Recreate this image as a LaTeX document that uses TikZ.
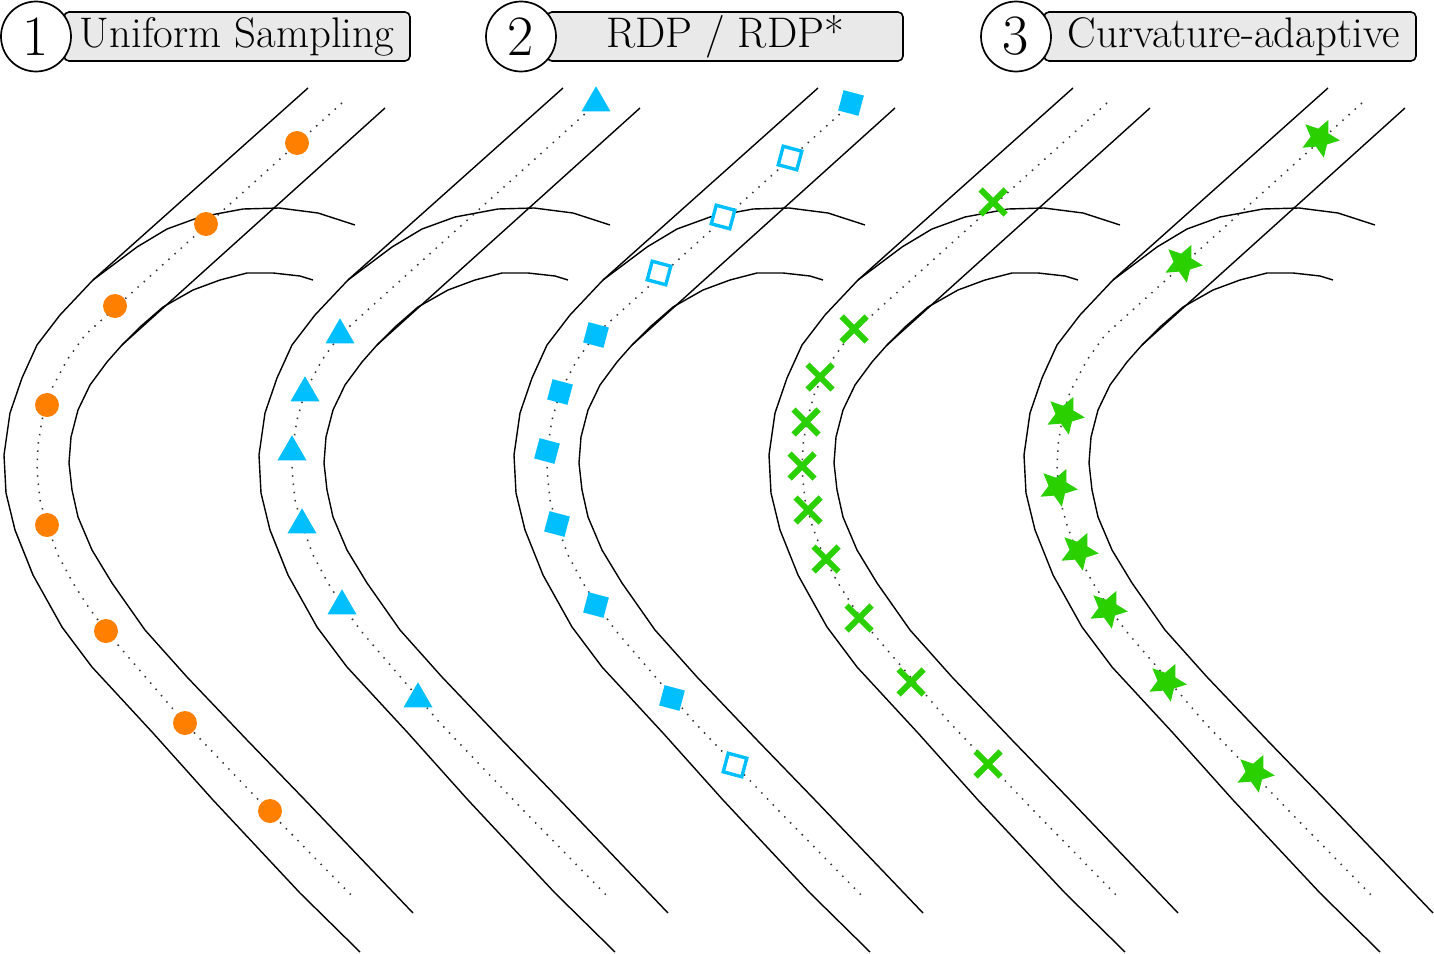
\documentclass[tikz,border=0pt]{standalone}
\usetikzlibrary{shapes.geometric,shapes.misc}
\definecolor{cOrange}{RGB}{255,127,0}
\definecolor{cBlue}{RGB}{0,191,255}
\definecolor{cGreen}{RGB}{43,208,0}
\definecolor{cBox}{RGB}{233,233,233}
\begin{document}
\begin{tikzpicture}[x=0.5pt,y=-0.5pt,
  road/.style={line width=0.7pt, line join=round},
  centerline/.style={line width=0.75pt, black!80, dash pattern=on 0.75pt off 3.4pt},
  dotmark/.style={circle, fill=cOrange, minimum size=12pt, inner sep=0pt},
  trimark/.style={regular polygon, regular polygon sides=3, fill=cBlue, minimum size=16.75pt, inner sep=0pt},
  sqfill/.style={rectangle, fill=cBlue, minimum size=10.5pt, inner sep=0pt, rotate=-15},
  sqopen/.style={rectangle, draw=cBlue, fill=white, line width=1.7pt, minimum size=9.6pt, inner sep=0pt, rotate=-15},
  xmark/.style={cross out, draw=cGreen, line width=3pt, minimum size=9.5pt, inner sep=0pt},
  starmark/.style={star, star points=5, star point ratio=2.1, fill=cGreen, minimum size=20pt, inner sep=0pt, rotate=-25},
  hbox/.style={rectangle, rounded corners=2.5pt, draw, line width=0.8pt, fill=cBox, minimum height=24.5pt, inner sep=0pt},
  htext/.style={inner sep=0pt, font=\fontsize{21.4}{25}\selectfont},
  numc/.style={circle, draw, fill=white, line width=0.85pt, minimum size=35pt, inner sep=0pt, font=\fontsize{28.5}{30}\selectfont}
]
\useasboundingbox (0,0) rectangle (1434,953);

% roads
\foreach \k in {0,...,4}{
\begin{scope}[shift={(255*\k,0)}]
 \draw[road] (360,952) -- (300,893) -- (213,800) -- (153,733) -- (92,667) -- (62,627) -- (33,575) -- (15,530) -- (6,493) -- (4,455) -- (10,413) -- (22,378) -- (37,345) -- (60,315) -- (93,280) -- (137,247) -- (167,229) -- (200,217) -- (243,209) -- (279,208) -- (318,213) -- (355,225);
 \draw[road] (93,280) -- (308,88);
 \draw[road] (413,913) -- (305,800) -- (247,740) -- (187,677) -- (145,630) -- (112,583) -- (92,550) -- (78,517) -- (72,490) -- (69,463) -- (71,437) -- (78,410) -- (90,385) -- (107,362) -- (122,345) -- (140,327) -- (163,307) -- (193,290) -- (220,280) -- (247,273) -- (273,273) -- (300,276) -- (313,280);
 \draw[road] (122,345) -- (385,108);
 \draw[centerline] (342,103) -- (85,335) -- (67,360) -- (50,392) -- (42,420) -- (38,445) -- (37,470) -- (40,500) -- (47,525) -- (58,555) -- (73,583) -- (87,605) -- (106,631) -- (185,723) -- (270,812) -- (355,899);
\end{scope}
}

% road 1: uniform
\node[dotmark] (o1) at (297,143) {};
\node[dotmark] (o2) at (206,224) {};
\node[dotmark] (o3) at (115,306) {};
\node[dotmark] (o4) at (47,405) {};
\node[dotmark] (o5) at (47,525) {};
\node[dotmark] (o6) at (106,631) {};
\node[dotmark] (o7) at (185,723) {};
\node[dotmark] (o8) at (270,811) {};

% road 2: RDP
\node[trimark] (t1) at (596,103) {};
\node[trimark] (t2) at (340,335) {};
\node[trimark] (t3) at (305,393) {};
\node[trimark] (t4) at (292,452) {};
\node[trimark] (t5) at (302,525) {};
\node[trimark] (t6) at (342,606) {};
\node[trimark] (t7) at (418,699) {};

% road 3: RDP*
\node[sqfill] (s1) at (851,103) {};
\node[sqopen] (s2) at (790,158) {};
\node[sqopen] (s3) at (723,217) {};
\node[sqopen] (s4) at (659,273) {};
\node[sqfill] (s5) at (596,335) {};
\node[sqfill] (s6) at (560,392) {};
\node[sqfill] (s7) at (547,451) {};
\node[sqfill] (s8) at (557,524) {};
\node[sqfill] (s9) at (596,605) {};
\node[sqfill] (s10) at (672,698) {};
\node[sqopen] (s11) at (735,765) {};

% road 4: crosses
\node[xmark] (x1) at (993,202) {};
\node[xmark] (x2) at (854,329) {};
\node[xmark] (x3) at (820,377) {};
\node[xmark] (x4) at (806,422) {};
\node[xmark] (x5) at (802,466) {};
\node[xmark] (x6) at (808,510) {};
\node[xmark] (x7) at (826,559) {};
\node[xmark] (x8) at (859,618) {};
\node[xmark] (x9) at (911,682) {};
\node[xmark] (x10) at (988,764) {};

% road 5: stars
\node[starmark] (st1) at (1320,138) {};
\node[starmark] (st2) at (1183,263) {};
\node[starmark] (st3) at (1065,415) {};
\node[starmark] (st4) at (1058,487) {};
\node[starmark] (st5) at (1079,551) {};
\node[starmark] (st6) at (1108,609) {};
\node[starmark] (st7) at (1167,682) {};
\node[starmark] (st8) at (1255,773) {};

% headers
\node[hbox, minimum width=173pt] (b1) at (237,36.5) {};
\node[hbox, minimum width=178pt] (b2) at (725,36.5) {};
\node[hbox, minimum width=186pt] (b3) at (1230,36.5) {};
\node[htext] (l1) at (237,36.5) {Uniform Sampling};
\node[htext] (l2) at (725,36.5) {RDP / RDP*};
\node[htext] (l3) at (1234,36.5) {Curvature-adaptive};
\node[numc] (n1) at (36,36.5) {1};
\node[numc] (n2) at (521,36.5) {2};
\node[numc] (n3) at (1016,36.5) {3};
\end{tikzpicture}
\end{document}
